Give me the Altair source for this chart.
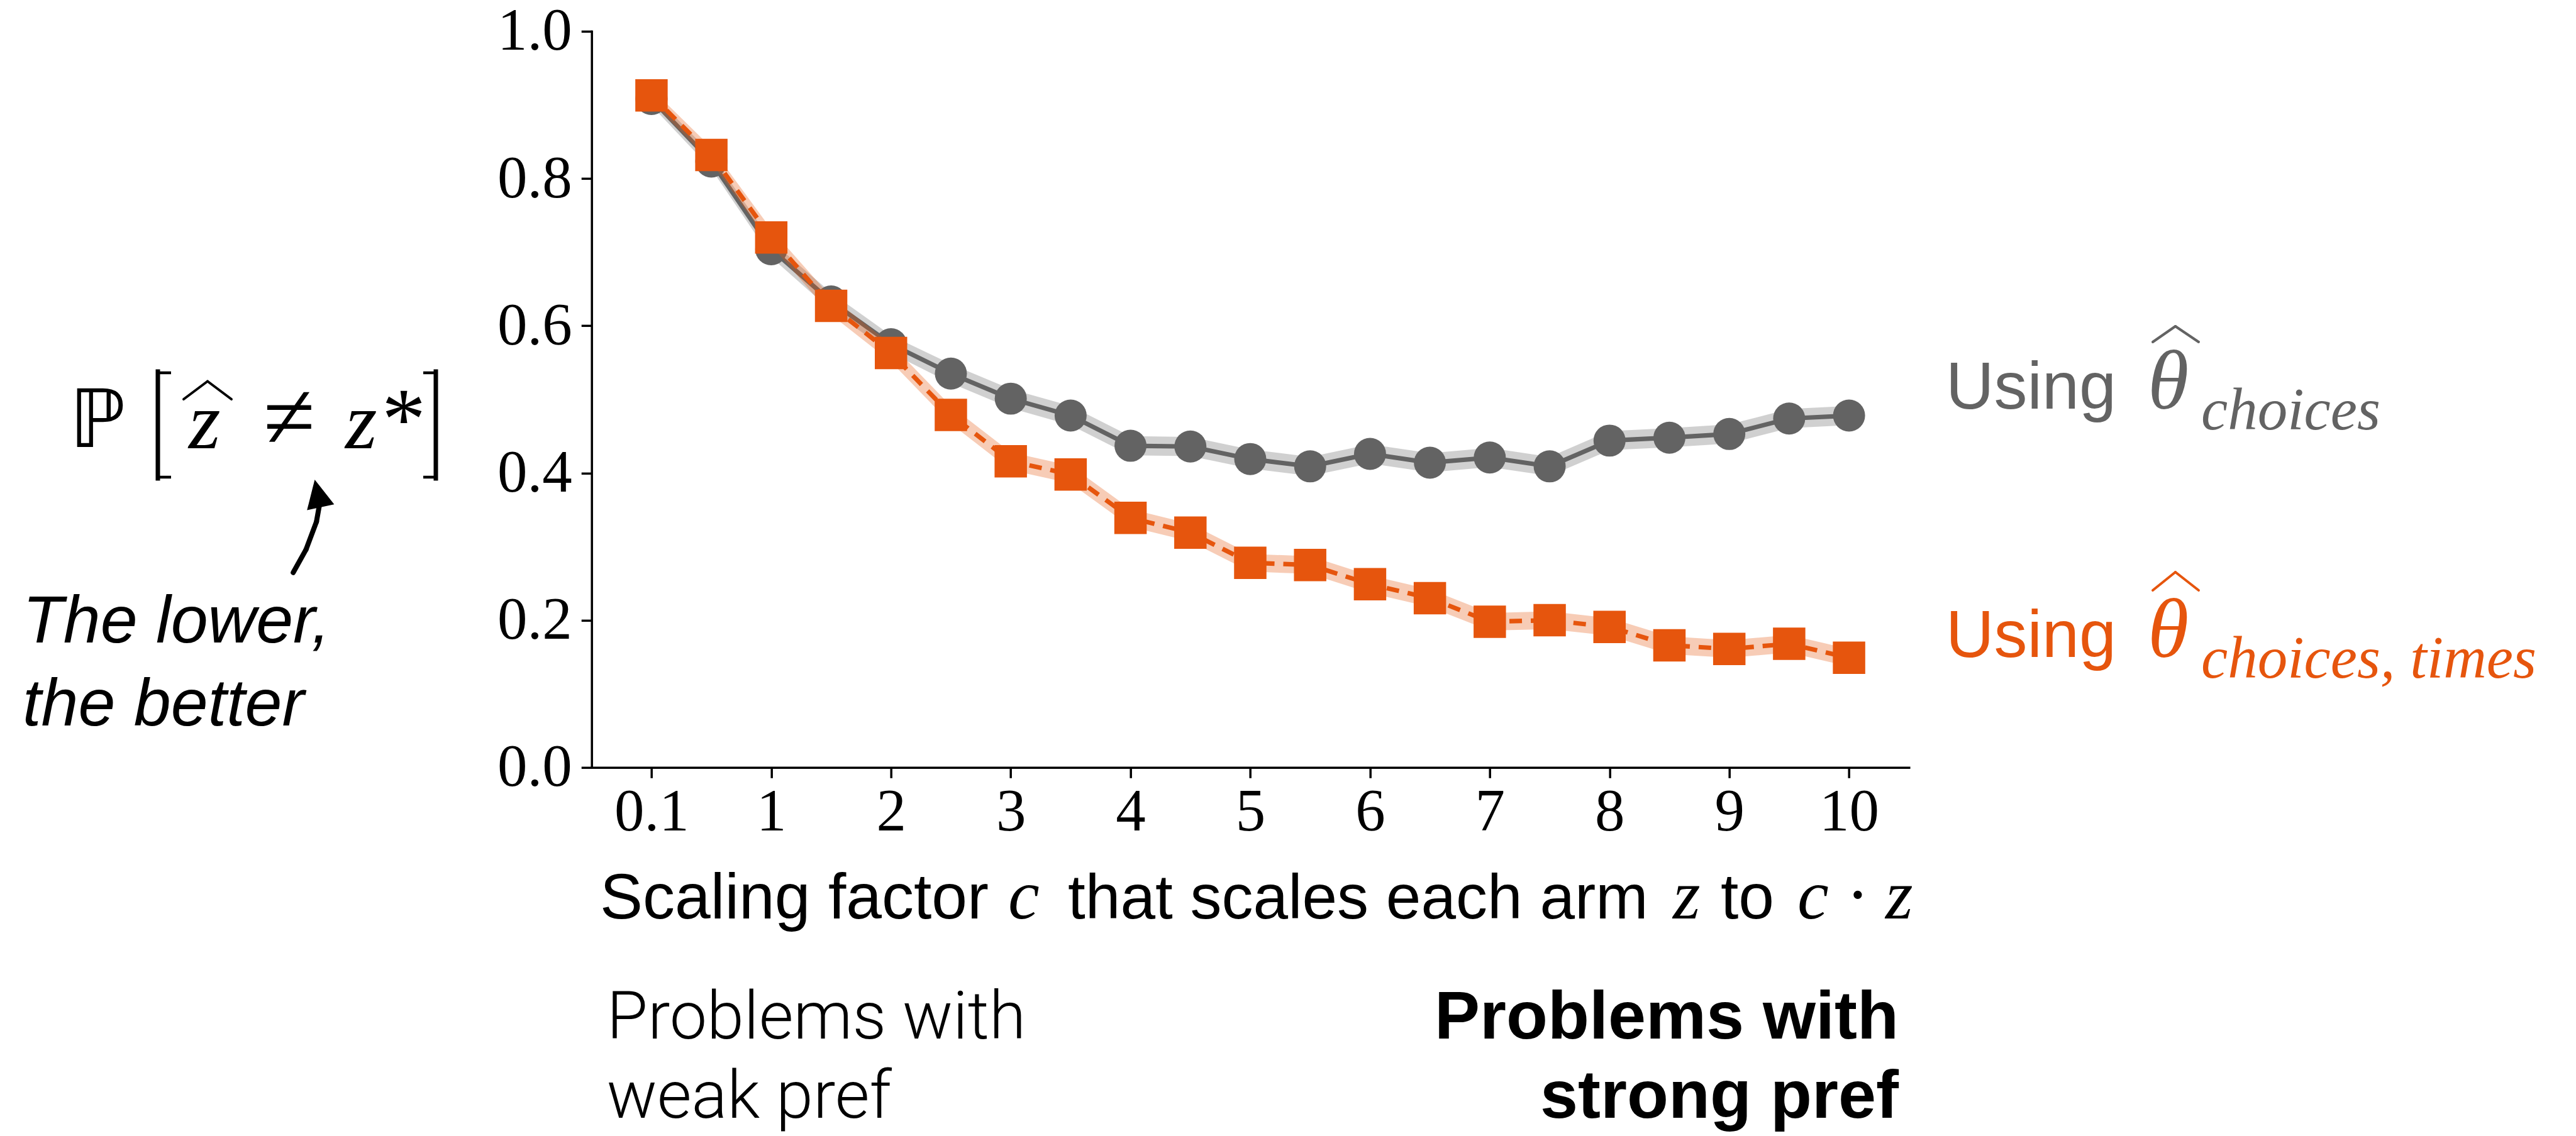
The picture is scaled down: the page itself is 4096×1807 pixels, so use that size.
import altair as alt
import pandas as pd

# ---------------- data ----------------
c_values = ["0.1", "0.5", "1", "1.5", "2", "2.5", "3", "3.5", "4", "4.5", "5",
            "5.5", "6", "6.5", "7", "7.5", "8", "8.5", "9", "9.5", "10"]
x_tick_labels = ["0.1", "1", "2", "3", "4", "5", "6", "7", "8", "9", "10"]
y_tick_values = [0.0, 0.2, 0.4, 0.6, 0.8, 1.0]

gray_vals = [0.908, 0.823, 0.704, 0.633, 0.575, 0.535, 0.501, 0.478, 0.437, 0.436, 0.419,
             0.409, 0.426, 0.414, 0.421, 0.409, 0.444, 0.448, 0.453, 0.474, 0.478]
gray_err = [0.009, 0.010, 0.011, 0.012, 0.012, 0.013, 0.013, 0.013, 0.013, 0.013, 0.013,
            0.013, 0.013, 0.013, 0.013, 0.013, 0.013, 0.013, 0.013, 0.013, 0.013]
orange_vals = [0.913, 0.832, 0.720, 0.627, 0.563, 0.479, 0.416, 0.398, 0.339, 0.319, 0.278,
               0.275, 0.249, 0.230, 0.198, 0.200, 0.191, 0.166, 0.161, 0.168, 0.149]
orange_err = [0.009, 0.010, 0.011, 0.012, 0.012, 0.012, 0.012, 0.012, 0.012, 0.012, 0.012,
              0.012, 0.012, 0.012, 0.012, 0.012, 0.012, 0.012, 0.012, 0.012, 0.012]

GRAY = "#636363"
ORANGE = "#e6550d"

# ---------------- layout (px) ----------------
OX, OY = 940.7, 49.8
W, H = 2094.6, 1171.0
TOTAL_W, TOTAL_H = 4096, 1807


def frame(vals, errs):
    return pd.DataFrame({
        "idx": list(range(len(vals))),
        "c": c_values,
        "v": vals,
        "lo": [v - e for v, e in zip(vals, errs)],
        "hi": [v + e for v, e in zip(vals, errs)],
    })


gdf = frame(gray_vals, gray_err)
odf = frame(orange_vals, orange_err)

label_arr = "[" + ",".join("'" + s + "'" for s in x_tick_labels) + "]"

xenc = alt.X("idx:Q",
             scale=alt.Scale(domain=[-1, 21], nice=False, zero=False),
             axis=alt.Axis(values=list(range(0, 21, 2)),
                           labelExpr=label_arr + "[round(datum.value/2)]",
                           title=None, labelPadding=8))
yaxis = alt.Axis(values=y_tick_values, format=".1f", title=None, labelPadding=15)
yscale = alt.Scale(domain=[0, 1], nice=False, zero=False)


def series_layers(df, color, band_opacity, line_kwargs, shape, size):
    base = alt.Chart(df)
    band = base.mark_area(color=color, opacity=band_opacity).encode(
        x=xenc, y=alt.Y("lo:Q", scale=yscale, axis=yaxis), y2="hi:Q")
    line = base.mark_line(color=color, **line_kwargs).encode(
        x=xenc, y=alt.Y("v:Q", scale=yscale, axis=yaxis))
    pts = base.mark_point(shape=shape, filled=True, color=color, size=size, opacity=1).encode(
        x=xenc, y=alt.Y("v:Q", scale=yscale, axis=yaxis))
    return [band, line, pts]


one = pd.DataFrame({"a": [0]})


def txt(s, x, y, size, font="Liberation Sans", color="black", style="normal",
        weight="normal", align="left", baseline="alphabetic"):
    return alt.Chart(one).mark_text(
        text=s, font=font, fontSize=size, color=color, fontStyle=style,
        fontWeight=weight, align=align, baseline=baseline
    ).encode(x=alt.value(x - OX), y=alt.value(y - OY))


def seg(x1, y1, x2, y2, width=4, color="black", cap="round"):
    return alt.Chart(one).mark_rule(color=color, strokeWidth=width, strokeCap=cap).encode(
        x=alt.value(x1 - OX), y=alt.value(y1 - OY),
        x2=alt.value(x2 - OX), y2=alt.value(y2 - OY))


layers = []
layers += series_layers(gdf, GRAY, 0.3, {"strokeWidth": 7.2}, "circle", 2600)
layers += series_layers(odf, ORANGE, 0.3, {"strokeWidth": 7.2, "strokeDash": [20, 14]}, "square", 2650)

SERIF = "Liberation Serif"

# ---- left annotation: P[ z^ != z* ]
layers.append(txt("\u2119", 110, 711, 128, font="DejaVu Sans"))
# brackets
layers.append(seg(251, 591, 251, 761, width=7, cap="square"))
layers.append(seg(251, 593, 272, 593, width=4.5, cap="butt"))
layers.append(seg(251, 759, 272, 759, width=4.5, cap="butt"))
layers.append(seg(693, 591, 693, 761, width=7, cap="square"))
layers.append(seg(673, 593, 693, 593, width=4.5, cap="butt"))
layers.append(seg(673, 759, 693, 759, width=4.5, cap="butt"))
# z hat
layers.append(txt("z", 300, 713, 130, font=SERIF, style="italic"))
layers.append(seg(292, 635, 330, 606.5, width=4))
layers.append(seg(330, 606.5, 368, 635, width=4))
layers.append(txt("\u2260", 460, 713, 150, font=SERIF, align="center"))
layers.append(txt("z", 549, 713, 130, font=SERIF, style="italic"))
layers.append(txt("*", 607, 713, 140, font=SERIF))
# arrow
layers.append(seg(466.2, 910.8, 486.6, 874.1, width=8))
layers.append(seg(486.6, 874.1, 503.2, 829.8, width=8))
layers.append(seg(503.2, 829.8, 508.5, 800, width=8))
layers.append(alt.Chart(one).mark_point(
    shape="M0,-1L-0.98,1L0.98,1Z", filled=True, color="black", size=2025, angle=348, opacity=1
).encode(x=alt.value(505.1 - OX), y=alt.value(784.9 - OY)))
layers.append(txt("The lower,", 36, 1022, 106, style="italic"))
layers.append(txt("the better", 36, 1153.6, 106, style="italic"))

# ---- right labels
layers.append(txt("Using", 3094, 649.8, 106, color=GRAY))
layers.append(txt("\u03b8", 3415, 650, 133, font=SERIF, style="italic", color=GRAY))
layers.append(seg(3423, 544, 3459, 519, width=4, color=GRAY))
layers.append(seg(3459, 519, 3496, 544, width=4, color=GRAY))
layers.append(txt("choices", 3500, 682.8, 95, font=SERIF, style="italic", color=GRAY))

layers.append(txt("Using", 3094, 1044.6, 106, color=ORANGE))
layers.append(txt("\u03b8", 3415, 1044.6, 133, font=SERIF, style="italic", color=ORANGE))
layers.append(seg(3423, 939, 3459, 910, width=4, color=ORANGE))
layers.append(seg(3459, 910, 3496, 939, width=4, color=ORANGE))
layers.append(txt("choices, times", 3500, 1077.5, 95, font=SERIF, style="italic", color=ORANGE))

# ---- x title
TB = 1460.8
layers.append(txt("Scaling factor", 954, TB, 102))
layers.append(txt("c", 1603, TB, 112, font=SERIF, style="italic"))
layers.append(txt("that scales each arm", 1698, TB, 100))
layers.append(txt("z", 2660, TB, 112, font=SERIF, style="italic"))
layers.append(txt("to", 2736, TB, 102))
layers.append(txt("c", 2858, TB, 112, font=SERIF, style="italic"))
layers.append(txt("\u00b7", 2954, TB, 112, font=SERIF, align="center"))
layers.append(txt("z", 2998, TB, 112, font=SERIF, style="italic"))

# ---- bottom notes
layers.append(txt("Problems with", 964.7, 1652, 106, font="Roboto", weight=300))
layers.append(txt("weak pref", 964.7, 1778, 106, font="Roboto", weight=300))
layers.append(txt("Problems with", 3019, 1652, 108, weight="bold", align="right"))
layers.append(txt("strong pref", 3019, 1778, 108, weight="bold", align="right"))

chart = alt.layer(*layers).properties(
    width=W, height=H,
    autosize=alt.AutoSizeParams(type="none"),
    padding={"left": OX, "top": OY, "right": TOTAL_W - OX - W, "bottom": TOTAL_H - OY - H},
    background="white",
).configure_view(stroke=None).configure_axis(
    grid=False, domainColor="black", domainWidth=3.5, tickColor="black", tickWidth=3.5,
    tickSize=16.5, labelFont=SERIF, labelFontSize=95, labelColor="black",
).configure_axisX(domainCap="square").configure_axisY(domainCap="square")

chart.save("out.html", embed_options={"renderer": "svg", "actions": False})
